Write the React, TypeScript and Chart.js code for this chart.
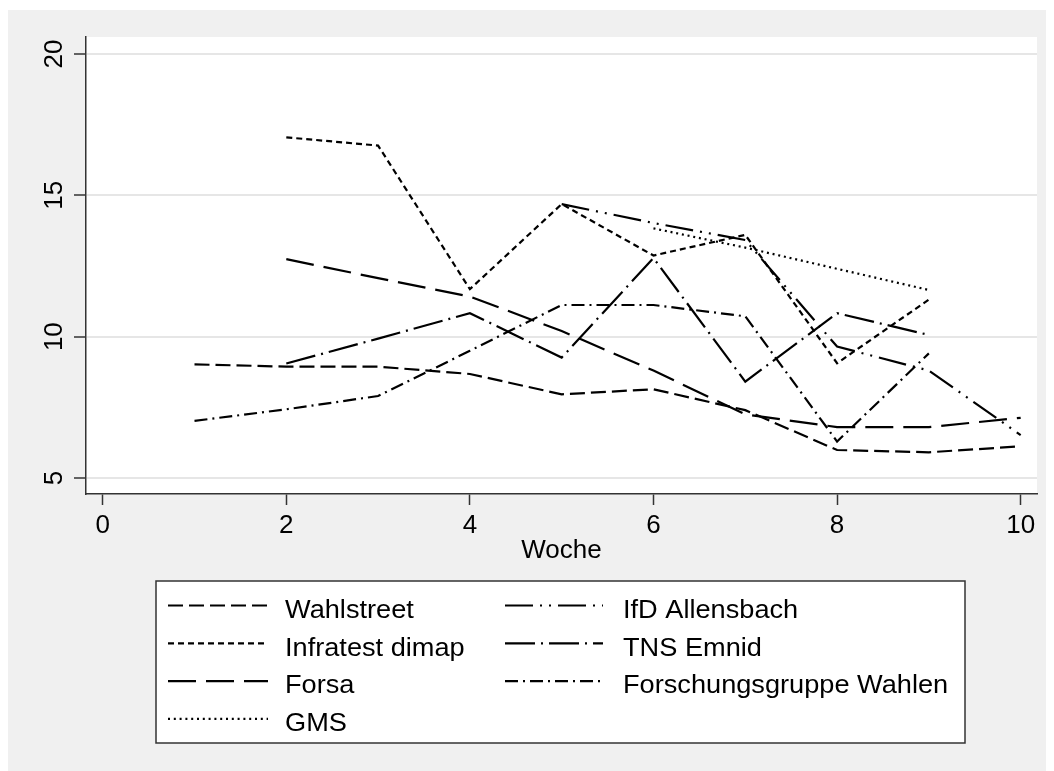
import React, { useEffect, useRef } from "react";
import { Chart, registerables } from "chart.js";

Chart.register(...registerables);

const weeks = [1, 2, 3, 4, 5, 6, 7, 8, 9, 10];
const seriesNames = [
  "Wahlstreet",
  "IfD Allensbach",
  "Infratest dimap",
  "TNS Emnid",
  "Forsa",
  "Forschungsgruppe Wahlen",
  "GMS",
];
const wahlstreet = [9.02, 8.94, 8.94, 8.68, 7.96, 8.14, 7.4, 5.99, 5.91, 6.12];
const ifdAllensbach = [null, null, null, null, 14.69, 14.02, 13.42, 9.65, 8.8, 6.52];
const infratestDimap = [null, 17.05, 16.76, 11.68, 14.69, 12.87, 13.6, 9.06, 11.31, null];
const tnsEmnid = [null, 9.05, 9.93, 10.83, 9.26, 12.78, 8.41, 10.83, 10.06, null];
const forsa = [null, 12.74, 12.07, 11.42, 10.2, 8.8, 7.25, 6.8, 6.8, 7.13];
const forschungsgruppeWahlen = [7.02, 7.43, 7.9, 9.5, 11.12, 11.12, 10.72, 6.29, 9.41, null];
const gms = [null, null, null, null, null, 13.83, 13.15, 12.4, 11.65, null];
const xTicks = [0, 2, 4, 6, 8, 10];
const yTicks = [5, 10, 15, 20];
const xTitle = "Woche";

const seriesValues = [wahlstreet, ifdAllensbach, infratestDimap, tnsEmnid, forsa, forschungsgruppeWahlen, gms];
const dashes = [
  [15, 6],
  [28, 7, 2, 7, 2, 7],
  [6, 4],
  [30, 6, 2, 6],
  [28, 10],
  [13, 5, 2, 5],
  [2, 3.8],
];

const FONT = "'Liberation Sans', Arial, Helvetica, sans-serif";

const bgPlugin = {
  id: "bgPlugin",
  beforeDraw(chart: any) {
    const { ctx, chartArea: a, width, height } = chart;
    ctx.save();
    ctx.fillStyle = "#f0f0f0";
    ctx.fillRect(0, 0, width, height);
    ctx.fillStyle = "#ffffff";
    ctx.fillRect(a.left, a.top, a.right - a.left, a.bottom - a.top);
    ctx.restore();
  },
};

const yLabelPlugin = {
  id: "yLabelPlugin",
  afterDraw(chart: any) {
    const { ctx } = chart;
    const ys = chart.scales.y;
    ctx.save();
    ctx.fillStyle = "#000";
    ctx.font = `26px ${FONT}`;
    ctx.textAlign = "center";
    ctx.textBaseline = "middle";
    for (const t of ys.ticks) {
      const py = ys.getPixelForValue(t.value);
      ctx.save();
      ctx.translate(47, py);
      ctx.rotate(-Math.PI / 2);
      ctx.fillText(String(t.value), 0, 0);
      ctx.restore();
    }
    ctx.restore();
  },
};

const legendPlugin = {
  id: "legendPlugin",
  afterDraw(chart: any) {
    const { ctx } = chart;
    const box = { left: 148, top: 571, right: 957, bottom: 733 };
    ctx.save();
    ctx.fillStyle = "#ffffff";
    ctx.fillRect(box.left, box.top, box.right - box.left, box.bottom - box.top);
    ctx.strokeStyle = "#333";
    ctx.lineWidth = 1.5;
    ctx.strokeRect(box.left, box.top, box.right - box.left, box.bottom - box.top);
    const rowY = [595.5, 633.3, 671.1, 708.9];
    const cols = [
      { s0: 160, s1: 260, tx: 277 },
      { s0: 497, s1: 595, tx: 615 },
    ];
    chart.data.datasets.forEach((ds: any, i: number) => {
      const r = Math.floor(i / 2);
      const c = cols[i % 2];
      const y = rowY[r];
      ctx.save();
      ctx.strokeStyle = "#000";
      ctx.lineWidth = 2.2;
      ctx.lineCap = "butt";
      ctx.setLineDash(ds.borderDash || []);
      ctx.beginPath();
      ctx.moveTo(c.s0, y);
      ctx.lineTo(c.s1, y);
      ctx.stroke();
      ctx.restore();
      ctx.save();
      ctx.fillStyle = "#000";
      ctx.font = `26px ${FONT}`;
      ctx.textAlign = "left";
      ctx.textBaseline = "alphabetic";
      ctx.translate(c.tx, y + 12.3);
      ctx.scale(1.045, 1);
      ctx.fillText(ds.label, 0, 0);
      ctx.restore();
    });
    ctx.restore();
  },
};

export default function App() {
  const ref = useRef<HTMLCanvasElement | null>(null);
  useEffect(() => {
    document.documentElement.style.overflow = "hidden";
    if (!ref.current) return;
    const datasets = seriesNames.map((name, i) => ({
      label: name,
      data: weeks
        .map((w, j) => ({ x: w, y: seriesValues[i][j] }))
        .filter((p) => p.y !== null && p.y !== undefined),
      borderColor: "#000",
      backgroundColor: "#000",
      borderWidth: 2.2,
      borderDash: dashes[i],
      pointRadius: 0,
      tension: 0,
      fill: false,
    }));
    const chart = new Chart(ref.current, {
      type: "line",
      data: { datasets },
      options: {
        animation: false,
        responsive: false,
        maintainAspectRatio: false,
        layout: { padding: { left: 0, top: 27, right: 31, bottom: 214 } },
        plugins: { legend: { display: false }, tooltip: { enabled: false } },
        scales: {
          x: {
            type: "linear",
            min: -0.182,
            max: 10.178,
            afterBuildTicks: (s: any) => {
              s.ticks = xTicks.map((v) => ({ value: v }));
            },
            afterFit: (s: any) => {
              s.height = 72;
            },
            ticks: {
              font: { family: FONT, size: 26 },
              color: "#000",
              padding: 5,
              maxRotation: 0,
              autoSkip: false,
            },
            grid: {
              drawOnChartArea: false,
              drawTicks: true,
              tickColor: "#333",
              tickLength: 11,
              tickWidth: 1.5,
            },
            border: { color: "#333", width: 1.5 },
            title: {
              display: true,
              text: xTitle,
              font: { family: FONT, size: 26 },
              color: "#000",
              padding: 0,
            },
          },
          y: {
            type: "linear",
            min: 4.434,
            max: 20.6,
            afterBuildTicks: (s: any) => {
              s.ticks = yTicks.map((v) => ({ value: v }));
            },
            afterFit: (s: any) => {
              s.width = 78;
            },
            ticks: { display: false },
            grid: {
              color: "#e6e6e6",
              lineWidth: 2,
              drawTicks: true,
              tickColor: "#333",
              tickLength: 12,
              tickWidth: 1.5,
            },
            border: { color: "#333", width: 1.5 },
          },
        },
      },
      plugins: [bgPlugin, yLabelPlugin, legendPlugin],
    } as any);
    return () => chart.destroy();
  }, []);
  return (
    <div style={{ paddingTop: 2 }}>
      <canvas ref={ref} width={1060} height={770} style={{ display: "block" }} />
    </div>
  );
}
